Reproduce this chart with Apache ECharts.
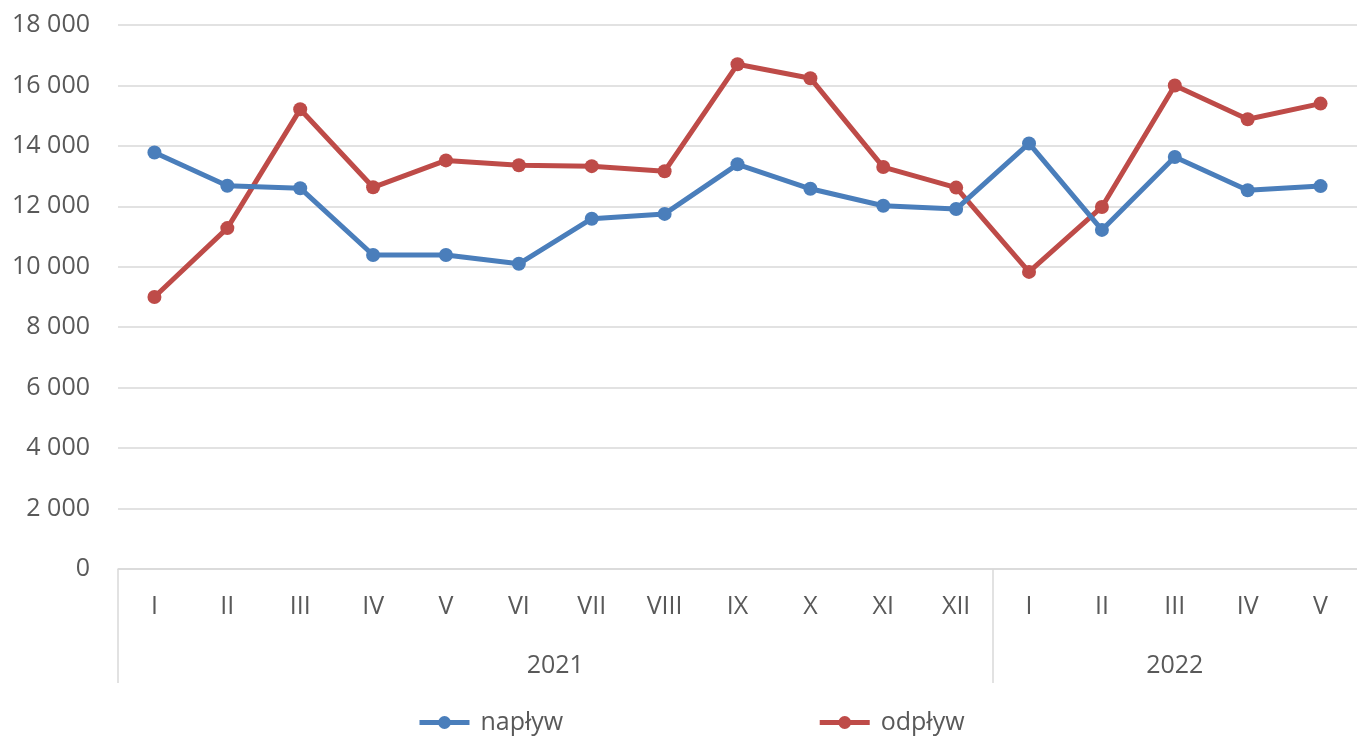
<!DOCTYPE html>
<html>
<head>
<meta charset="utf-8">
<script src="https://cdn.jsdelivr.net/npm/echarts@6/dist/echarts.min.js"></script>
<style>
	html, body { margin: 0; padding: 0; background: #fff; }
	#chart { width: 1357px; height: 742px; }
</style>
</head>
<body>
<div id="chart"></div>
<script>
var months = ['I', 'II', 'III', 'IV', 'V', 'VI', 'VII', 'VIII', 'IX', 'X', 'XI', 'XII', 'I', 'II', 'III', 'IV', 'V'];
var years = ['2021', '2022'];
var yearCenters = [5.5, 14];
var yearBounds = [-0.5, 11.5];
var naplyw = [13780, 12680, 12600, 10390, 10390, 10100, 11590, 11750, 13390, 12580, 12020, 11910, 14080, 11220, 13630, 12530, 12670];
var odplyw = [9000, 11280, 15210, 12630, 13520, 13360, 13330, 13160, 16700, 16240, 13300, 12620, 9830, 11980, 16000, 14880, 15400];

var font = '"Open Sans", sans-serif';
var grey = '#595959';

var chart = echarts.init(document.getElementById('chart'));
chart.setOption({
	color: ['#4A7EBB', '#BE4B48'],
	textStyle: { fontFamily: font },
	legend: {
		bottom: 2,
		left: 412,
		itemGap: 254,
		itemWidth: 50,
		itemHeight: 16,
		lineStyle: { width: 5 },
		textStyle: { color: grey, fontSize: 25, fontFamily: font, padding: [0, 0, 0, 6] },
		data: ['napływ', 'odpływ']
	},
	grid: {
		left: 118,
		right: -2,
		top: 25,
		bottom: 173
	},
	xAxis: [{
		type: 'category',
		data: months,
		axisLine: { lineStyle: { color: '#d9d9d9', width: 1.5 } },
		axisTick: { show: false },
		axisLabel: { color: grey, fontSize: 25, margin: 25, interval: 0 },
		splitLine: { show: false }
	}, {
		type: 'value',
		position: 'bottom',
		min: -0.5,
		max: 16.5,
		axisLine: { show: false },
		splitLine: { show: false },
		axisTick: {
			show: true,
			customValues: yearBounds,
			length: 114,
			lineStyle: { color: '#d9d9d9', width: 1.5 }
		},
		axisLabel: {
			customValues: yearCenters,
			color: grey,
			fontSize: 25,
			margin: 84,
			formatter: function(value) {
				var i = yearCenters.indexOf(value);
				return i >= 0 ? years[i] : '';
			}
		}
	}],
	yAxis: {
		type: 'value',
		min: 0,
		max: 18000,
		interval: 2000,
		axisLine: { show: false },
		axisTick: { show: false },
		axisLabel: {
			color: grey,
			fontSize: 25,
			margin: 28,
			formatter: function(value) {
				return value >= 1000 ? Math.floor(value / 1000) + ' ' + ('00' + (value % 1000)).slice(-3) : String(value);
			}
		},
		splitLine: { lineStyle: { color: '#d9d9d9', width: 1.5 } }
	},
	series: [{
		name: 'napływ',
		type: 'line',
		data: naplyw,
		symbol: 'circle',
		symbolSize: 14,
		lineStyle: { width: 5 },
		z: 3
	}, {
		name: 'odpływ',
		type: 'line',
		data: odplyw,
		symbol: 'circle',
		symbolSize: 14,
		lineStyle: { width: 5 },
		z: 2
	}]
});
</script>
</body>
</html>
